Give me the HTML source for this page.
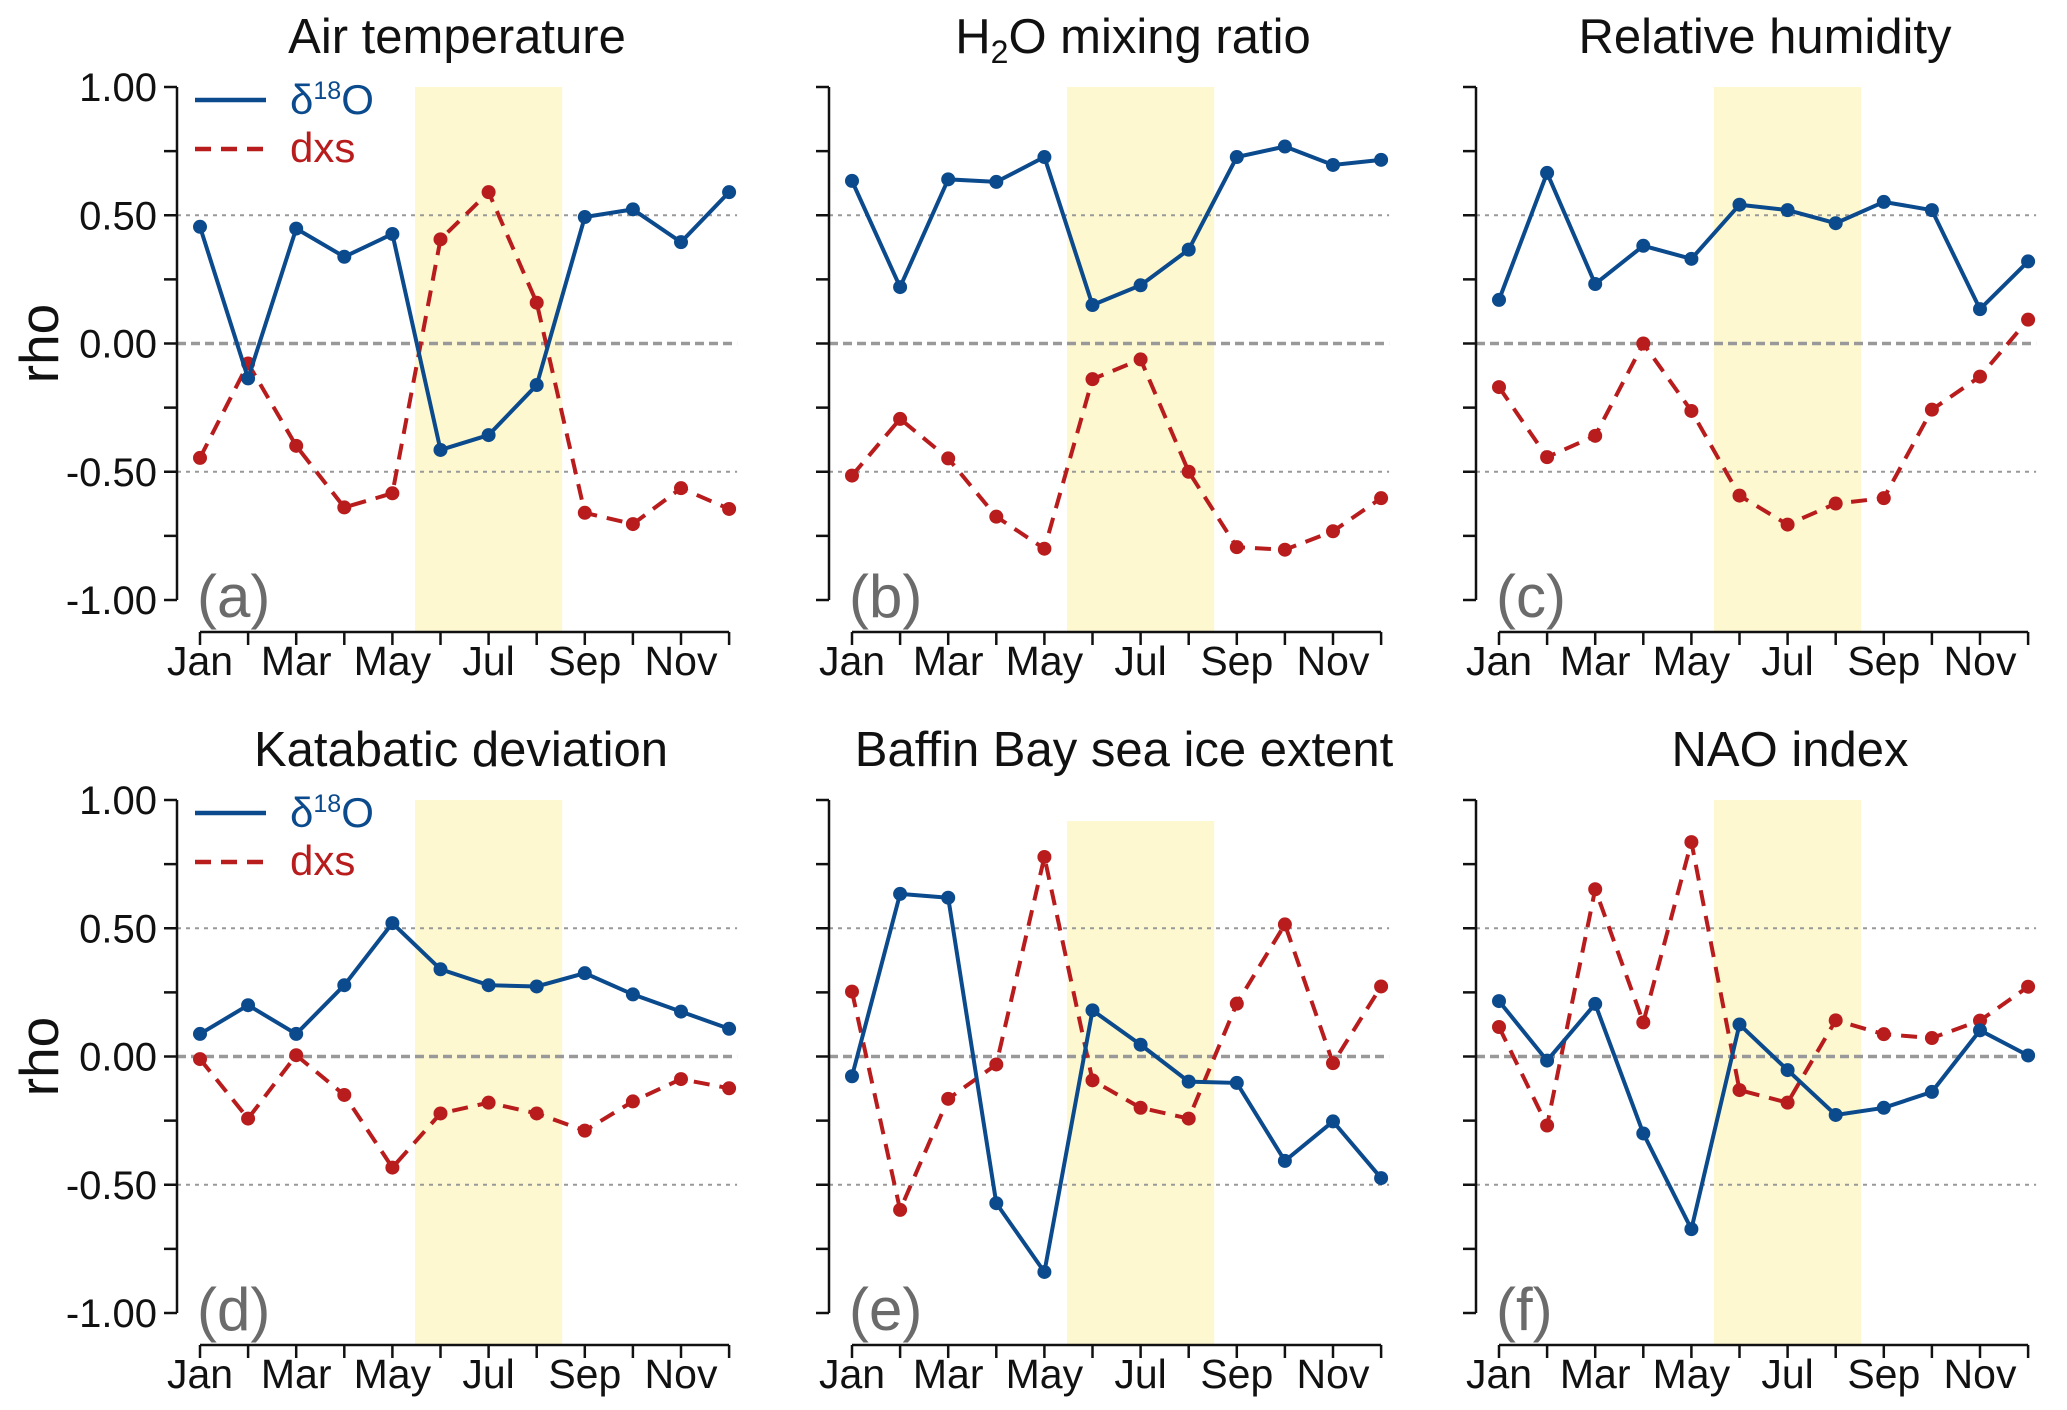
<!DOCTYPE html>
<html><head><meta charset="utf-8"><style>
body{margin:0;background:#fff}
svg{display:block;font-family:"Liberation Sans",Arial,sans-serif}
</style></head><body>
<svg id="chart" width="2067" height="1410" viewBox="0 0 2067 1410" xmlns="http://www.w3.org/2000/svg"></svg>
<script>
const months = ["Jan","Feb","Mar","Apr","May","Jun","Jul","Aug","Sep","Oct","Nov","Dec"];
const titles = ["Air temperature","H2O mixing ratio","Relative humidity","Katabatic deviation","Baffin Bay sea ice extent","NAO index"];
const letters = ["(a)","(b)","(c)","(d)","(e)","(f)"];
const yTicks = [1,0.5,0,-0.5,-1];
const yTickLabels = ["1.00","0.50","0.00","-0.50","-1.00"];
const d18O_a = [0.455,-0.136,0.448,0.338,0.427,-0.415,-0.357,-0.162,0.493,0.523,0.395,0.59];
const dxs_a = [-0.446,-0.078,-0.399,-0.639,-0.584,0.406,0.59,0.159,-0.66,-0.704,-0.564,-0.645];
const d18O_b = [0.634,0.22,0.64,0.63,0.727,0.15,0.227,0.366,0.727,0.768,0.696,0.716];
const dxs_b = [-0.515,-0.294,-0.448,-0.675,-0.8,-0.139,-0.062,-0.5,-0.794,-0.804,-0.732,-0.603];
const d18O_c = [0.17,0.665,0.232,0.381,0.33,0.541,0.52,0.469,0.552,0.52,0.134,0.32];
const dxs_c = [-0.17,-0.443,-0.36,0,-0.263,-0.593,-0.706,-0.624,-0.603,-0.258,-0.129,0.093];
const d18O_d = [0.088,0.2,0.088,0.278,0.52,0.34,0.278,0.273,0.325,0.242,0.175,0.108];
const dxs_d = [-0.01,-0.242,0.005,-0.15,-0.433,-0.222,-0.18,-0.222,-0.289,-0.175,-0.088,-0.124];
const d18O_e = [-0.077,0.634,0.619,-0.572,-0.84,0.18,0.046,-0.098,-0.103,-0.407,-0.253,-0.474];
const dxs_e = [0.253,-0.598,-0.165,-0.031,0.778,-0.093,-0.2,-0.242,0.206,0.515,-0.026,0.273];
const d18O_f = [0.216,-0.016,0.205,-0.3,-0.673,0.125,-0.053,-0.228,-0.2,-0.138,0.102,0.004];
const dxs_f = [0.115,-0.269,0.652,0.133,0.836,-0.131,-0.18,0.141,0.087,0.072,0.14,0.272];
const blueSeries = [d18O_a,d18O_b,d18O_c,d18O_d,d18O_e,d18O_f];
const redSeries = [dxs_a,dxs_b,dxs_c,dxs_d,dxs_e,dxs_f];

const NS="http://www.w3.org/2000/svg";
const svg=document.getElementById('chart');
function mk(tag,attrs,parent){const e=document.createElementNS(NS,tag);for(const k in attrs)e.setAttribute(k,attrs[k]);(parent||svg).appendChild(e);return e;}
const axX=[177,829,1476], titleX=[457,1133,1765,461,1124,1790];
const BLUE="#0b4a8c", RED="#b81c1c";
for(let p=0;p<6;p++){
  const col=p%3,row=Math.floor(p/3);
  const ax=axX[col], off=row*713;
  const yTop=87+off, yBot=600+off, xAxY=632+off;
  const x0=ax+23, step=48.1;
  const xs=i=>x0+i*step;
  const ys=v=>(yTop+yBot)/2-v*(yBot-yTop)/2;
  const g=mk('g',{});
  
  
  const shTop=(p===4)?yTop+21:yTop;
  const sh=mk('rect',{x:xs(4.47),y:shTop,width:xs(7.53)-xs(4.47),height:xAxY-shTop,fill:"#fdf8cf"},g);
  
  
  [0.5,-0.5].forEach(v=>{const l=mk('line',{x1:ax,x2:xs(11)+8,y1:ys(v),y2:ys(v),stroke:"#999","stroke-width":2,"stroke-dasharray":"4 5"},g);
    });
  const z=mk('line',{x1:ax,x2:xs(11)+8,y1:ys(0),y2:ys(0),stroke:"#999","stroke-width":3.5,"stroke-dasharray":"9 5"},g);
  
  mk('line',{x1:ax,x2:ax,y1:yTop,y2:yBot,stroke:"#111","stroke-width":2.5},g);
  for(let k=0;k<9;k++){const v=1-k*0.25;mk('line',{x1:ax-13,x2:ax,y1:ys(v),y2:ys(v),stroke:"#111","stroke-width":2.5},g);}
  if(col===0){
    yTicks.forEach((v,i)=>{const t=mk('text',{x:ax-20,y:ys(v)+14,"text-anchor":"end","font-size":40,fill:"#111"},g);t.textContent=yTickLabels[i];
      });
    const r=mk('text',{transform:`translate(58,${ys(0)}) rotate(-90)`,"text-anchor":"middle","font-size":55,fill:"#111"},g);r.textContent="rho";
    
  }
  mk('line',{x1:xs(0),x2:xs(11),y1:xAxY,y2:xAxY,stroke:"#111","stroke-width":2.5},g);
  months.forEach((m,i)=>{mk('line',{x1:xs(i),x2:xs(i),y1:xAxY,y2:xAxY+13,stroke:"#111","stroke-width":2.5},g);
    if(i%2===0){const t=mk('text',{x:xs(i),y:xAxY+43,"text-anchor":"middle","font-size":41,fill:"#111"},g);t.textContent=m;
      }});
  const tt=mk('text',{x:titleX[p],y:53+off,"text-anchor":"middle","font-size":49,fill:"#111"},g);
  if(p===1){tt.innerHTML='H<tspan font-size="32" dy="10">2</tspan><tspan dy="-10">O mixing ratio</tspan>';}else tt.textContent=titles[p];
  
  const lt=mk('text',{x:ax+20,y:yBot+17,"font-size":60,fill:"#6b6b6b"},g);lt.textContent=letters[p];
  
  const rs=redSeries[p], bs=blueSeries[p];
  const rl=mk('polyline',{points:rs.map((v,i)=>xs(i)+','+ys(v)).join(' '),fill:"none",stroke:RED,"stroke-width":4,"stroke-dasharray":"16 10"},g);
  
  rs.forEach((v,i)=>{const c=mk('circle',{cx:xs(i),cy:ys(v),r:7,fill:RED},g);});
  const bl=mk('polyline',{points:bs.map((v,i)=>xs(i)+','+ys(v)).join(' '),fill:"none",stroke:BLUE,"stroke-width":4},g);
  
  bs.forEach((v,i)=>{const c=mk('circle',{cx:xs(i),cy:ys(v),r:7,fill:BLUE},g);});
  if(col===0){
    const lg=mk('g',{},g);
    mk('line',{x1:195,x2:266,y1:yTop+13,y2:yTop+13,stroke:BLUE,"stroke-width":4.5},lg);
    const t1=mk('text',{x:290,y:yTop+27,"font-size":42,fill:BLUE},lg);t1.innerHTML='δ<tspan font-size="25" dy="-15">18</tspan><tspan dy="15">O</tspan>';
    
    mk('line',{x1:195,x2:266,y1:yTop+62,y2:yTop+62,stroke:RED,"stroke-width":4.5,"stroke-dasharray":"16 10"},lg);
    const t2=mk('text',{x:290,y:yTop+75,"font-size":42,fill:RED},lg);t2.textContent='dxs';
    
  }
}
</script>
</body></html>
